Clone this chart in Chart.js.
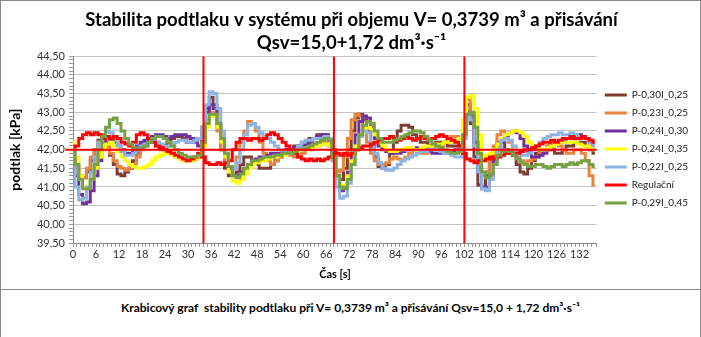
<!DOCTYPE html>
<html>
<head>
<meta charset="utf-8">
<script src="https://cdn.jsdelivr.net/npm/chart.js@4.4.1/dist/chart.umd.min.js"></script>
<style>
  body { margin: 0; background: #fff; font-family: Lato, sans-serif; }
  #box1 { position: absolute; left: 0; top: 0; width: 699px; height: 288px; border: 1px solid #8a8a8a; }
  #box2 { position: absolute; left: 0; top: 289px; width: 699px; height: 60px; border: 1px solid #8a8a8a; }
  #box2 .t { text-align: center; font-weight: bold; font-size: 12px; margin-top: 10px; color: #000; }
</style>
</head>
<body>
<div id="box1"><canvas id="c" width="699" height="288"></canvas></div>
<div id="box2"><div class="t">Krabicový graf&nbsp; stability podtlaku při V= 0,3739 m³ a přisávání Qsv=15,0 + 1,72 dm³·s⁻¹</div></div>
<script>
// time axis, 1 s step, 0..136 s
const times = Array.from({length: 137}, (_, i) => i)

const seriesNames = ['P-0,30I_0,25', 'P-0,23I_0,25', 'P-0,24I_0,30', 'P-0,24I_0,35', 'P-0,22I_0,25', 'Regulační', 'P-0,29I_0,45']

const p030i025 = [
  42.0,41.6,41.3,41.25,41.4,41.7,42.0,42.25,42.3,42.1,41.85,41.6,41.35,41.3,41.4,41.5,41.7,41.9,42.1,42.2,
  42.3,42.25,42.2,42.1,42.1,42.2,42.3,42.35,42.35,42.3,42.2,42.2,42.25,42.3,
  42.6,43.1,43.4,43.2,42.6,42.0,41.5,41.3,41.3,41.4,41.6,41.8,41.8,41.7,41.6,41.5,41.5,41.5,41.6,41.7,
  41.8,41.9,42.0,42.0,42.1,42.1,42.2,42.2,42.3,42.3,42.4,42.4,42.4,42.3,
  41.9,41.3,41.2,41.5,42.0,42.5,42.85,42.95,42.8,42.5,42.1,41.8,41.55,41.5,41.6,41.9,42.2,42.5,42.65,42.65,
  42.6,42.4,42.3,42.2,42.2,42.1,42.1,42.2,42.2,42.2,42.1,42.1,42.1,42.1,
  42.5,43.2,42.7,41.8,41.05,41.0,41.3,41.7,42.0,42.2,42.2,42.0,41.9,41.85,41.6,41.4,41.35,41.5,41.7,41.9,
  42.0,42.0,42.1,42.0,41.9,41.9,42.0,42.1,42.1,42.2,42.2,42.2,42.1,42.0,41.9
]
const p023i025 = [
  42.0,41.5,41.2,41.25,41.5,41.8,42.0,42.2,42.2,42.1,41.9,41.7,41.55,41.5,41.45,41.5,41.6,41.8,42.0,42.1,
  42.2,42.2,42.1,42.0,42.0,41.9,41.9,41.8,41.8,41.7,41.7,41.7,41.75,41.8,
  42.2,42.8,43.0,42.9,42.5,42.0,41.6,41.4,41.5,41.8,42.2,42.5,42.75,42.7,42.5,42.2,41.9,41.7,41.6,41.7,
  41.8,41.9,41.9,41.85,41.8,41.8,41.9,42.0,42.0,42.1,42.1,42.2,42.2,42.1,
  41.8,41.4,41.45,41.8,42.3,42.8,42.95,42.9,42.6,42.2,41.9,41.7,41.6,41.6,41.65,41.75,41.8,41.75,41.7,41.8,
  41.9,42.0,42.0,41.9,41.9,42.0,42.0,42.1,42.1,42.2,42.3,42.35,42.35,42.3,
  42.7,43.35,43.0,42.2,41.5,41.3,41.4,41.7,42.1,42.4,42.5,42.4,42.2,41.95,41.8,41.7,41.65,41.7,41.75,41.8,
  41.9,42.0,42.1,42.2,42.2,42.1,42.0,41.9,41.9,42.0,42.0,41.9,41.7,41.3,41.05
]
const p024i030 = [
  42.0,41.3,40.8,40.55,40.6,40.9,41.3,41.7,42.0,42.2,42.25,42.2,42.1,42.0,41.9,41.9,42.0,42.1,42.2,42.25,
  42.3,42.35,42.4,42.4,42.35,42.3,42.35,42.4,42.4,42.4,42.35,42.3,42.2,42.1,
  42.5,43.0,43.2,43.1,42.7,42.2,41.8,41.5,41.3,41.3,41.4,41.5,41.6,41.7,41.75,41.8,41.8,41.85,41.9,41.9,
  41.9,41.95,42.0,42.0,42.05,42.1,42.1,42.15,42.2,42.3,42.35,42.4,42.4,42.3,
  41.8,41.2,40.9,41.0,41.4,41.9,42.4,42.75,42.9,42.85,42.6,42.3,42.1,42.0,41.95,41.9,41.9,41.9,41.95,42.0,
  42.0,42.0,42.05,42.0,42.0,41.95,41.9,41.9,41.9,41.9,41.9,41.95,42.0,42.0,
  42.5,43.0,42.9,42.2,41.4,40.95,41.0,41.3,41.7,42.0,42.2,42.35,42.45,42.5,42.45,42.3,42.1,41.9,41.8,41.8,
  41.85,41.9,42.0,42.1,42.2,42.2,42.25,42.3,42.3,42.35,42.4,42.35,42.3,42.2,42.1
]
const p024i035 = [
  42.2,41.8,41.3,41.0,41.0,41.2,41.5,41.8,42.0,42.15,42.2,42.1,41.95,41.8,41.7,41.6,41.55,41.5,41.5,41.55,
  41.6,41.7,41.8,41.85,41.9,41.9,41.85,41.8,41.75,41.7,41.7,41.7,41.75,41.8,
  42.1,42.6,42.9,42.9,42.6,42.2,41.8,41.4,41.15,41.1,41.2,41.35,41.5,41.6,41.65,41.7,41.7,41.75,41.8,41.8,
  41.85,41.85,41.9,41.9,41.95,42.0,42.0,42.05,42.05,42.1,42.1,42.15,42.15,42.1,
  41.7,41.2,41.0,41.05,41.3,41.7,42.1,42.4,42.55,42.6,42.55,42.4,42.2,42.1,42.0,41.95,41.95,42.0,42.0,42.05,
  42.05,42.0,42.0,42.05,42.1,42.1,42.1,42.15,42.15,42.2,42.2,42.2,42.25,42.3,
  42.8,43.4,43.45,43.1,42.4,41.85,41.8,41.9,42.0,42.15,42.3,42.4,42.45,42.5,42.5,42.45,42.35,42.2,42.1,42.05,
  42.0,42.0,42.05,42.1,42.15,42.2,42.2,42.2,42.2,42.2,42.15,42.1,42.1,42.05,42.0
]
const p022i025 = [
  42.0,41.0,40.65,40.7,41.0,41.4,41.8,42.2,42.4,42.5,42.45,42.3,42.1,41.95,41.85,41.85,41.9,42.0,42.1,42.15,
  42.2,42.25,42.2,42.15,42.1,42.1,42.15,42.2,42.25,42.25,42.2,42.2,42.25,42.3,
  42.6,43.2,43.55,43.5,43.1,42.5,41.9,41.55,41.5,41.65,42.0,42.4,42.65,42.7,42.6,42.45,42.35,42.3,42.2,42.1,
  42.0,41.95,41.9,41.95,42.0,42.1,42.2,42.25,42.25,42.3,42.3,42.3,42.35,42.3,
  41.7,41.0,40.7,40.75,41.1,41.6,42.0,42.35,42.5,42.45,42.2,41.9,41.65,41.5,41.45,41.45,41.5,41.6,41.7,41.75,
  41.8,41.85,41.9,41.95,41.95,42.0,42.0,42.0,41.95,41.9,41.9,41.85,41.8,41.8,
  42.3,42.95,42.8,42.1,41.4,40.95,40.9,41.2,41.6,42.0,42.25,42.3,42.25,42.1,41.95,41.85,41.85,41.9,42.0,42.1,
  42.2,42.3,42.35,42.4,42.4,42.45,42.4,42.4,42.45,42.4,42.35,42.3,42.3,42.2,42.1
]
const regulacni = [
  42.0,42.1,42.3,42.4,42.45,42.4,42.45,42.4,42.3,42.35,42.3,42.35,42.3,42.2,42.15,42.1,42.2,42.4,42.45,42.4,
  42.3,42.2,42.1,42.05,42.0,41.95,41.9,41.85,41.8,41.75,41.7,41.75,41.8,41.9,
  41.8,41.65,41.6,41.6,41.65,41.6,41.65,41.7,42.0,42.2,42.3,42.3,42.25,42.3,42.3,42.25,42.3,42.4,42.45,42.4,
  42.3,42.2,42.1,42.0,41.9,41.8,41.75,41.7,41.75,41.7,41.75,41.7,41.75,41.8,
  42.0,41.9,41.85,41.9,41.85,41.9,42.0,42.05,42.1,42.1,42.15,42.2,42.25,42.3,42.3,42.35,42.3,42.25,42.3,42.35,
  42.3,42.25,42.3,42.35,42.3,42.25,42.3,42.35,42.4,42.35,42.3,42.25,42.2,42.1,
  41.9,41.75,41.7,41.65,41.7,41.7,41.75,41.8,41.75,41.8,41.85,41.9,41.9,41.85,41.9,41.95,42.0,42.0,42.05,42.1,
  42.15,42.2,42.2,42.25,42.2,42.25,42.3,42.3,42.35,42.3,42.3,42.35,42.3,42.25,42.2
]
const p029i045 = [
  42.0,41.6,41.2,40.95,40.95,41.2,41.6,42.0,42.35,42.6,42.8,42.85,42.7,42.5,42.3,42.15,42.05,42.0,42.05,42.1,
  42.2,42.3,42.35,42.35,42.3,42.2,42.1,42.0,41.9,41.85,41.8,41.8,41.8,41.85,
  42.2,42.7,42.95,42.95,42.7,42.3,41.9,41.55,41.3,41.25,41.35,41.5,41.6,41.7,41.7,41.75,41.8,41.8,41.8,41.85,
  41.85,41.9,41.9,41.9,41.95,42.0,42.0,42.05,42.1,42.15,42.2,42.25,42.3,42.25,
  41.8,41.3,41.0,40.95,41.2,41.6,42.0,42.4,42.65,42.75,42.7,42.5,42.3,42.2,42.2,42.2,42.25,42.3,42.35,42.4,
  42.45,42.5,42.5,42.45,42.35,42.25,42.15,42.1,42.05,42.0,41.95,41.9,41.9,41.95,
  42.4,42.95,43.0,42.6,41.9,41.4,41.25,41.35,41.6,41.85,41.95,42.0,41.95,41.85,41.75,41.65,41.6,41.55,41.55,41.6,
  41.6,41.55,41.5,41.55,41.6,41.6,41.55,41.6,41.65,41.6,41.65,41.7,41.7,41.6,41.55
]

// reference lines: disturbance moments and set point
const eventTimes = [34, 68, 102]
const setPoint = 42.0
const setPointStart = -2
const yMin = 39.5
const yMax = 44.5
const xMax = 136.5

const seriesValues = [p030i025, p023i025, p024i030, p024i035, p022i025, regulacni, p029i045]
const seriesColors = ['#7f3c33', '#e9843c', '#7030a0', '#ffff00', '#8db3e2', '#ff0000', '#77a044']
const drawOrder = [7, 6, 5, 4, 3, 2, 1]

const datasets = seriesValues.map((vals, i) => ({
  label: seriesNames[i],
  data: vals.map((v, k) => ({x: times[k], y: v})),
  borderColor: seriesColors[i],
  backgroundColor: seriesColors[i],
  borderWidth: 3,
  pointRadius: 0,
  stepped: 'middle',
  order: drawOrder[i]
}))

datasets.push({
  label: 'setpoint',
  data: [{x: setPointStart, y: setPoint}, {x: xMax, y: setPoint}],
  borderColor: '#ff0000', borderWidth: 2, pointRadius: 0, order: 0, clip: false
})
eventTimes.forEach((t) => {
  datasets.push({
    label: 'event ' + t,
    data: [{x: t, y: yMin}, {x: t, y: yMax}],
    borderColor: '#ff0000', borderWidth: 2, pointRadius: 0, order: 0
  })
})

const isMajorY = (v) => Math.abs(v * 2 - Math.round(v * 2)) < 1e-6

new Chart(document.getElementById('c'), {
  type: 'line',
  data: { datasets },
  options: {
    responsive: false,
    animation: false,
    layout: { padding: { left: 4, right: 2, bottom: 8, top: 0 } },
    plugins: {
      title: {
        display: true,
        text: ['Stabilita podtlaku v systému při objemu V= 0,3739 m³ a přisávání', 'Qsv=15,0+1,72 dm³·s⁻¹'],
        color: '#000',
        font: { family: 'Lato', size: 18.5, weight: 'bold', lineHeight: 1.25 },
        padding: { top: 7, bottom: 2 }
      },
      legend: {
        position: 'right',
        title: { display: true, text: ' ', font: { family: 'Lato', size: 10 }, padding: { top: 0, bottom: 4 } },
        labels: {
          color: '#222',
          font: { family: 'Lato', size: 10 },
          usePointStyle: true,
          pointStyle: 'line',
          pointStyleWidth: 22,
          padding: 8,
          filter: (item) => item.datasetIndex < seriesNames.length,
          sort: (a, b) => a.datasetIndex - b.datasetIndex
        }
      },
      tooltip: { enabled: false }
    },
    scales: {
      x: {
        type: 'linear',
        min: 0,
        max: xMax,
        afterFit: (scale) => { scale.height = 38 },
        ticks: {
          stepSize: 1,
          autoSkip: false,
          maxRotation: 0,
          color: '#333',
          font: { family: 'Lato', size: 11 },
          padding: 1,
          callback: (v) => (Number.isInteger(v) && v % 6 === 0) ? String(v) : ''
        },
        grid: { drawOnChartArea: false, tickLength: 4, tickColor: '#9a9a9a' },
        border: { color: '#8a8a8a' },
        title: { display: true, text: 'Čas [s]', color: '#000', font: { family: 'Lato', size: 11, weight: 'bold' }, padding: { top: 3, bottom: 0 } }
      },
      y: {
        min: yMin,
        max: yMax,
        afterFit: (scale) => { scale.width = 68 },
        ticks: {
          stepSize: 0.1,
          autoSkip: false,
          color: '#333',
          font: { family: 'Lato', size: 11 },
          padding: 4,
          callback: (v) => isMajorY(v) ? v.toFixed(2).replace('.', ',') : ''
        },
        grid: {
          color: (ctx) => (ctx.tick && isMajorY(ctx.tick.value)) ? '#c4c4c4' : 'rgba(0,0,0,0)',
          tickColor: '#9a9a9a',
          tickLength: 4
        },
        border: { color: '#8a8a8a' },
        title: { display: true, text: 'podtlak [kPa]', color: '#000', font: { family: 'Lato', size: 14, weight: 'bold' }, padding: 2 }
      }
    }
  }
})
</script>
</body>
</html>
